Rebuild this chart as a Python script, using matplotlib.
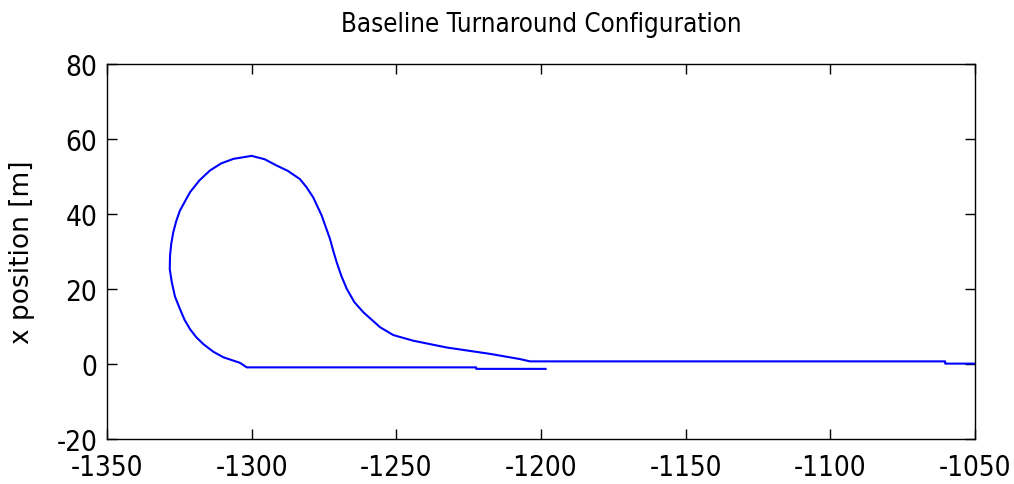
import numpy as np
import matplotlib
matplotlib.use("Agg")
import matplotlib.pyplot as plt

plt.rcParams['axes.unicode_minus'] = False

# vehicle path (from the right end, round the loop, back out)
x_pos = [-1050.0, -1060.3, -1060.3, -1203.8, -1207.2, -1217.6, -1232.6, -1244.1,
         -1251.0, -1255.6, -1258.5, -1261.4, -1264.5, -1267.1, -1269.0, -1270.6,
         -1271.8, -1272.9, -1275.8, -1278.7, -1281.0, -1283.3, -1287.5, -1291.3,
         -1295.5, -1300.0, -1306.3, -1310.5, -1314.4, -1318.0, -1321.3, -1324.8,
         -1326.1, -1327.1, -1327.8, -1328.2, -1328.3, -1327.6, -1326.5, -1324.8,
         -1323.2, -1321.3, -1319.2, -1316.7, -1313.3, -1309.8, -1304.0, -1301.7,
         -1222.4, -1222.4, -1198.4]
y_pos = [0.1, 0.1, 0.7, 0.7, 1.3, 2.7, 4.4, 6.2,
         7.7, 9.8, 11.8, 13.8, 16.5, 20.0, 23.5, 27.1,
         30.2, 33.3, 39.6, 44.4, 47.1, 49.3, 51.5, 52.9,
         54.6, 55.5, 54.7, 53.5, 51.6, 49.0, 45.8, 40.9,
         38.0, 35.1, 32.0, 28.9, 25.3, 21.8, 18.0, 14.7,
         11.8, 9.3, 7.2, 5.3, 3.3, 1.8, 0.3, -0.9,
         -0.9, -1.3, -1.3]

x_ticks = np.arange(-1350, -1049, 50)
y_ticks = np.arange(-20, 81, 20)

fig = plt.figure(figsize=(10.14, 4.85), dpi=100)
ax = fig.add_axes([0.1055, 0.0928, 0.856, 0.7732])
ax.plot(x_pos, y_pos, color='#0000ff', lw=1.5)

ax.set_xlim(-1350, -1050)
ax.set_ylim(-20, 80)
ax.set_xticks(x_ticks)
ax.set_yticks(y_ticks)
ax.tick_params(direction='in', length=7, width=1, top=True, right=True, pad=7)
ax.tick_params(axis='x', pad=10)
for lab in ax.get_xticklabels() + ax.get_yticklabels():
    lab.set_family('DejaVu Sans')
    lab.set_stretch('condensed')
    lab.set_fontsize(20)
for s in ax.spines.values():
    s.set_linewidth(1)

ax.set_title('Baseline Turnaround Configuration', family='DejaVu Sans',
             stretch='condensed', fontsize=18.5, pad=24)
ax.set_ylabel('x position [m]', family='DejaVu Sans', fontsize=19)
ax.yaxis.set_label_coords(-0.083, 0.5)

fig.savefig('out.png', dpi=100)
